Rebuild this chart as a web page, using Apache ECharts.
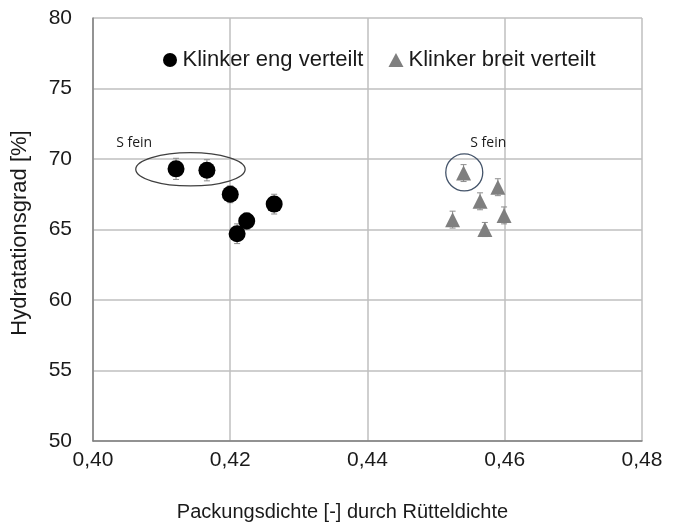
<!DOCTYPE html>
<html>
<head>
<meta charset="utf-8">
<script src="https://cdn.jsdelivr.net/npm/echarts@6/dist/echarts.min.js"></script>
<style>
  html, body { margin: 0; padding: 0; background: #fff; }
  #chart { width: 673px; height: 522px; }
</style>
</head>
<body>
<div id="chart"></div>
<script>
  // Klinker eng verteilt
  const engX = [0.4121, 0.4166, 0.4200, 0.4264, 0.4224, 0.4210];
  const engY = [69.3, 69.2, 67.5, 66.8, 65.6, 64.7];
  const engErr = [0.75, 0.75, 0.6, 0.7, 0.6, 0.7];
  // Klinker breit verteilt
  const breitX = [0.4540, 0.4590, 0.4564, 0.4524, 0.4599, 0.4571];
  const breitY = [69.0, 68.0, 67.0, 65.7, 66.0, 65.0];
  const breitErr = [0.6, 0.6, 0.6, 0.6, 0.6, 0.5];
  const xTicks = ['0,40', '0,42', '0,44', '0,46', '0,48'];

  const FONT = 'Liberation Sans, Arial, sans-serif';

  function pairs(xs, ys) {
    return xs.map((x, i) => [x, ys[i]]);
  }
  function errData(xs, ys, es) {
    return xs.map((x, i) => [x, ys[i] - es[i], ys[i] + es[i]]);
  }
  function errRender(params, api) {
    const lo = api.coord([api.value(0), api.value(1)]);
    const hi = api.coord([api.value(0), api.value(2)]);
    const c = 3;
    const style = { stroke: '#8c8c8c', lineWidth: 1 };
    return {
      type: 'group',
      children: [
        { type: 'line', shape: { x1: lo[0], y1: lo[1], x2: hi[0], y2: hi[1] }, style },
        { type: 'line', shape: { x1: lo[0] - c, y1: lo[1], x2: lo[0] + c, y2: lo[1] }, style },
        { type: 'line', shape: { x1: hi[0] - c, y1: hi[1], x2: hi[0] + c, y2: hi[1] }, style }
      ]
    };
  }
  const labelStyle = { fontSize: 14, fill: '#1a1a1a', align: 'center', verticalAlign: 'middle', fontFamily: 'Open Sans, DejaVu Sans, sans-serif' };

  const chart = echarts.init(document.getElementById('chart'));
  const option = {
    animation: false,
    textStyle: { fontFamily: FONT },
    grid: { left: 93, right: 31, top: 18, bottom: 81, outerBoundsMode: 'none', containLabel: false },
    legend: {
      top: 44,
      left: 158,
      itemGap: 25,
      itemWidth: 15,
      itemHeight: 14,
      textStyle: { fontSize: 22, color: '#1a1a1a', fontFamily: FONT },
      data: [
        { name: 'Klinker eng verteilt', icon: 'circle' },
        { name: 'Klinker breit verteilt', icon: 'triangle' }
      ]
    },
    xAxis: {
      type: 'value',
      min: 0.40,
      max: 0.48,
      interval: 0.02,
      axisLine: { show: true, lineStyle: { color: '#7f7f7f', width: 1.5 } },
      axisTick: { show: false },
      splitLine: { show: true, lineStyle: { color: '#bfbfbf', width: 1.5 } },
      axisLabel: {
        fontSize: 21, color: '#1a1a1a', margin: 9,
        formatter: v => xTicks[Math.round((v - 0.40) / 0.02)]
      },
      name: 'Packungsdichte [-] durch Rütteldichte',
      nameLocation: 'middle',
      nameGap: 61,
      nameTextStyle: { fontSize: 20, color: '#1a1a1a', padding: [0, 50, 0, 0] }
    },
    yAxis: {
      type: 'value',
      min: 50,
      max: 80,
      interval: 5,
      axisLine: { show: true, lineStyle: { color: '#7f7f7f', width: 1.5 } },
      axisTick: { show: false },
      splitLine: { show: true, lineStyle: { color: '#bfbfbf', width: 1.5 } },
      axisLabel: { fontSize: 21, color: '#1a1a1a', margin: 21 },
      name: 'Hydratationsgrad [%]',
      nameLocation: 'middle',
      nameGap: 62,
      nameTextStyle: { fontSize: 22, color: '#1a1a1a', padding: [0, 7, 0, 0] }
    },
    series: [
      {
        name: 'Klinker eng verteilt err',
        type: 'custom',
        renderItem: errRender,
        data: errData(engX, engY, engErr),
        z: 1,
        silent: true
      },
      {
        name: 'Klinker breit verteilt err',
        type: 'custom',
        renderItem: errRender,
        data: errData(breitX, breitY, breitErr),
        z: 1,
        silent: true
      },
      {
        name: 'Klinker eng verteilt',
        type: 'scatter',
        symbol: 'circle',
        symbolSize: 17,
        itemStyle: { color: '#000000', opacity: 1 },
        data: pairs(engX, engY),
        z: 3
      },
      {
        name: 'Klinker breit verteilt',
        type: 'scatter',
        symbol: 'triangle',
        symbolSize: [15, 15],
        itemStyle: { color: '#7f7f7f', opacity: 1 },
        data: pairs(breitX, breitY),
        z: 3
      },
      {
        // annotations: ellipse, circle and "S fein" labels
        name: 'annot',
        type: 'custom',
        silent: true,
        z: 4,
        data: [[0]],
        renderItem: function (params, api) {
          const e = api.coord([0.4142, 69.27]);
          const e2 = api.coord([0.4142 + 0.00797, 69.27 - 1.18]);
          const c = api.coord([0.4541, 69.05]);
          const t1 = api.coord([0.4060, 71.15]);
          const t2 = api.coord([0.4576, 71.12]);
          return {
            type: 'group',
            children: [
              {
                type: 'ellipse',
                shape: { cx: e[0], cy: e[1], rx: e2[0] - e[0], ry: e2[1] - e[1] },
                style: { fill: null, stroke: '#404040', lineWidth: 1.3 }
              },
              {
                type: 'circle',
                shape: { cx: c[0], cy: c[1], r: 18.5 },
                style: { fill: null, stroke: '#44546a', lineWidth: 1.3 }
              },
              { type: 'text', x: t1[0], y: t1[1], style: Object.assign({ text: 'S fein' }, labelStyle) },
              { type: 'text', x: t2[0], y: t2[1], style: Object.assign({ text: 'S fein' }, labelStyle) }
            ]
          };
        }
      }
    ]
  };
  chart.setOption(option);
</script>
</body>
</html>
